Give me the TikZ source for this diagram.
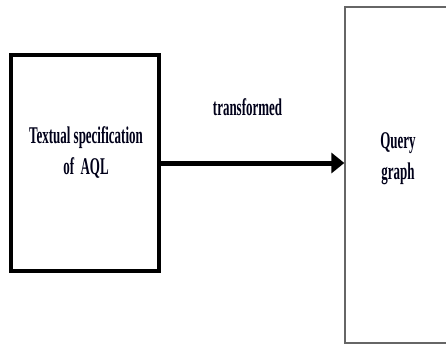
\documentclass[tikz,border=0pt]{standalone}
\usepackage{fontspec}
\newfontfamily\diagfont{Liberation Serif}[FakeStretch=0.54]
\usetikzlibrary{arrows.meta}
\tikzset{
  lbl/.style={font=\diagfont\bfseries\fontsize{24}{31}\selectfont, inner sep=0pt, align=center, text=black!90!blue},
  thickbox/.style={draw=black, line width=4pt, inner sep=0pt},
  thinbox/.style={draw=black!60, line width=1.3pt, inner sep=0pt},
  flow/.style={line width=5pt, -{Triangle[length=13pt,width=20pt]}}
}
\begin{document}
\begin{tikzpicture}[x=1pt,y=-1pt]
\clip (0,0) rectangle (446,345);
\useasboundingbox (0,0) rectangle (446,345);
\node[thickbox, minimum width=148pt, minimum height=216pt] (left) at (85,163) {};
\node[thinbox, minimum width=130pt, minimum height=336pt] (right) at (410,175) {};
\node[lbl, anchor=north] (ltext) at (86,126.5) {Textual specification\\of\ \ AQL};
\node[lbl, anchor=north] (rtext) at (398,132) {Query\\graph};
\draw[flow] (left.east) -- (left.east -| right.west);
\node[lbl, anchor=base] (tlabel) at (247.5,115) {transformed};
\end{tikzpicture}
\end{document}
